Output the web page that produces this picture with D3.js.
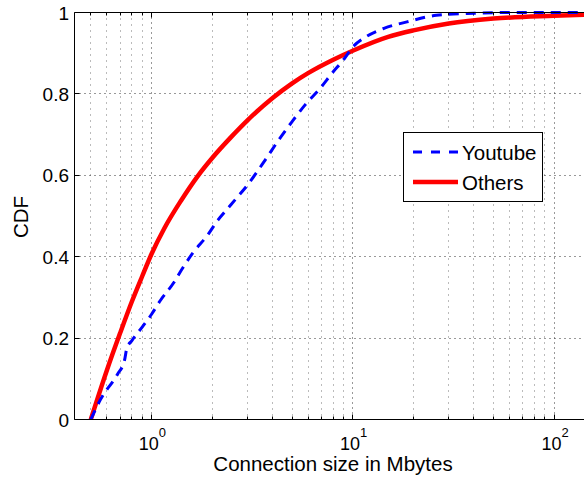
<!DOCTYPE html>
<html><head><meta charset="utf-8">
<script src="https://cdn.jsdelivr.net/npm/d3@7"></script>
<style>
body{margin:0;background:#fff}
text{font-family:"Liberation Sans",Arial,Helvetica,sans-serif;fill:#000}
</style>
</head><body>
<svg id="c" width="584" height="479"></svg>
<script>
// ---- data ----
const youtubeX = [0.5, 0.56, 0.68, 0.735, 0.755, 0.8, 0.9, 1.0, 1.11, 1.29, 1.4, 1.6, 1.9, 2.14, 2.39, 2.68, 3.0, 3.68, 4.29, 5.0, 5.8, 6.9, 7.9, 9.0, 10.0, 11.7, 14.3, 18.6, 26, 40, 60, 150];
const youtubeY = [0, 0.05, 0.112, 0.145, 0.175, 0.194, 0.227, 0.258, 0.293, 0.336, 0.365, 0.408, 0.453, 0.49, 0.518, 0.547, 0.576, 0.638, 0.687, 0.732, 0.773, 0.814, 0.851, 0.884, 0.915, 0.941, 0.961, 0.977, 0.993, 0.998, 1, 1];
const othersX = [0.5, 0.6, 0.7, 0.8, 0.9, 1.0, 1.16, 1.4, 1.71, 2.0, 2.5, 3.0, 4.0, 5.0, 6.0, 8.0, 10, 15, 20, 30, 50, 100, 150];
const othersY = [0, 0.12, 0.213, 0.29, 0.352, 0.406, 0.47, 0.537, 0.6, 0.642, 0.695, 0.735, 0.79, 0.826, 0.851, 0.884, 0.906, 0.94, 0.956, 0.973, 0.985, 0.992, 0.995];
const seriesNames = ["Youtube", "Others"];
const yTicks = [0, 0.2, 0.4, 0.6, 0.8, 1];
const yTickLabels = ["0", "0.2", "0.4", "0.6", "0.8", "1"];
const xMajorTicks = [1, 10, 100];
const xTickBase = "10";
const xTickExponents = ["0", "1", "2"];
const xMinorTicks = [0.5, 0.6, 0.7, 0.8, 0.9, 2, 3, 4, 5, 6, 7, 8, 9, 20, 30, 40, 50, 60, 70, 80, 90];
const xLabel = "Connection size in Mbytes";
const yLabel = "CDF";

// ---- layout ----
const svg = d3.select("#c");
const L = 74.5, R = 589.5, T = 12.5, B = 419.5;
const x = d3.scaleLog().domain([0.415, 150]).range([L, R]);
const y = d3.scaleLinear().domain([0, 1]).range([B, T]);
const sx = v => Math.round(x(v) - 0.5) + 0.5;
const sy = v => Math.round(y(v) - 0.5) + 0.5;

svg.append("rect").attr("width", 584).attr("height", 479).attr("fill", "#fff");

// grid
const grid = svg.append("g");
grid.selectAll(".gvmin").data(xMinorTicks).join("line")
  .attr("x1", sx).attr("x2", sx).attr("y1", T).attr("y2", B)
  .attr("stroke", "#777").attr("stroke-width", 1).attr("stroke-dasharray", "1,5");
grid.selectAll(".gvmaj").data(xMajorTicks).join("line")
  .attr("x1", sx).attr("x2", sx).attr("y1", T).attr("y2", B)
  .attr("stroke", "#333").attr("stroke-width", 1).attr("stroke-dasharray", "1,4");
grid.selectAll(".gh").data(yTicks.slice(1, -1)).join("line")
  .attr("x1", L).attr("x2", R).attr("y1", sy).attr("y2", sy)
  .attr("stroke", "#333").attr("stroke-width", 1).attr("stroke-dasharray", "1,4");

// ticks (inward, top and bottom, left)
const tk = svg.append("g").attr("stroke", "#000").attr("stroke-width", 1);
const allX = xMajorTicks.map(v => ({v, len: 5})).concat(xMinorTicks.map(v => ({v, len: 3})));
tk.selectAll(".tb").data(allX).join("line")
  .attr("x1", d => sx(d.v)).attr("x2", d => sx(d.v)).attr("y1", B).attr("y2", d => B - d.len);
tk.selectAll(".tt").data(allX).join("line")
  .attr("x1", d => sx(d.v)).attr("x2", d => sx(d.v)).attr("y1", T).attr("y2", d => T + d.len);
tk.selectAll(".tl").data(yTicks).join("line")
  .attr("x1", L).attr("x2", L + 5).attr("y1", sy).attr("y2", sy);

// series
svg.append("clipPath").attr("id", "clip").append("rect")
  .attr("x", L).attr("y", T - 3).attr("width", R - L).attr("height", B - T + 3);
const line = d3.line().x(d => x(d[0])).y(d => y(d[1])).curve(d3.curveMonotoneX);
const plot = svg.append("g").attr("clip-path", "url(#clip)");
plot.append("path").datum(othersX.map((v, i) => [v, othersY[i]]))
  .attr("d", line).attr("fill", "none").attr("stroke", "#ff0000")
  .attr("stroke-width", 4.5).attr("stroke-linejoin", "round");
plot.append("path").datum(youtubeX.map((v, i) => [v, youtubeY[i]]))
  .attr("d", line).attr("fill", "none").attr("stroke", "#0000ff")
  .attr("stroke-width", 3).attr("stroke-dasharray", "10,7");

// axes box lines
const ax = svg.append("g").attr("stroke", "#000").attr("stroke-width", 1);
ax.append("line").attr("x1", L).attr("x2", R).attr("y1", T).attr("y2", T);
ax.append("line").attr("x1", L).attr("x2", R).attr("y1", B).attr("y2", B);
ax.append("line").attr("x1", L).attr("x2", L).attr("y1", T).attr("y2", B);
ax.append("line").attr("x1", R).attr("x2", R).attr("y1", T).attr("y2", B);

// y tick labels
svg.append("g").selectAll("text").data(yTicks).join("text")
  .attr("x", L - 5.5).attr("y", d => y(d) + 7)
  .attr("text-anchor", "end").attr("font-size", 19)
  .text((d, i) => yTickLabels[i]);

// x tick labels with superscript
const xl = svg.append("g").selectAll("text").data(xMajorTicks).join("text")
  .attr("x", d => x(d) + 1).attr("y", 449.5).attr("text-anchor", "middle").attr("font-size", 18);
xl.append("tspan").text(xTickBase);
xl.append("tspan").attr("dy", -13).attr("font-size", 13).text((d, i) => xTickExponents[i]);

// axis labels
svg.append("text").attr("x", 333).attr("y", 471).attr("text-anchor", "middle")
  .attr("font-size", 20.5).text(xLabel);
svg.append("text").attr("transform", "translate(28,217) rotate(-90)")
  .attr("text-anchor", "middle").attr("font-size", 20.5).text(yLabel);

// legend
const lg = svg.append("g");
lg.append("rect").attr("x", 403.5).attr("y", 132.5).attr("width", 139).attr("height", 69)
  .attr("fill", "#fff").attr("stroke", "#000").attr("stroke-width", 1);
const legendRows = [
  {name: seriesNames[0], color: "#0000ff", w: 3, dash: "9,9", cy: 152},
  {name: seriesNames[1], color: "#ff0000", w: 4.5, dash: null, cy: 182}
];
legendRows.forEach(r => {
  lg.append("line").attr("x1", 413).attr("x2", 458).attr("y1", r.cy).attr("y2", r.cy)
    .attr("stroke", r.color).attr("stroke-width", r.w).attr("stroke-dasharray", r.dash);
  lg.append("text").attr("x", 462).attr("y", r.cy + 7.5).attr("font-size", 20.5).text(r.name);
});
</script>
</body></html>
